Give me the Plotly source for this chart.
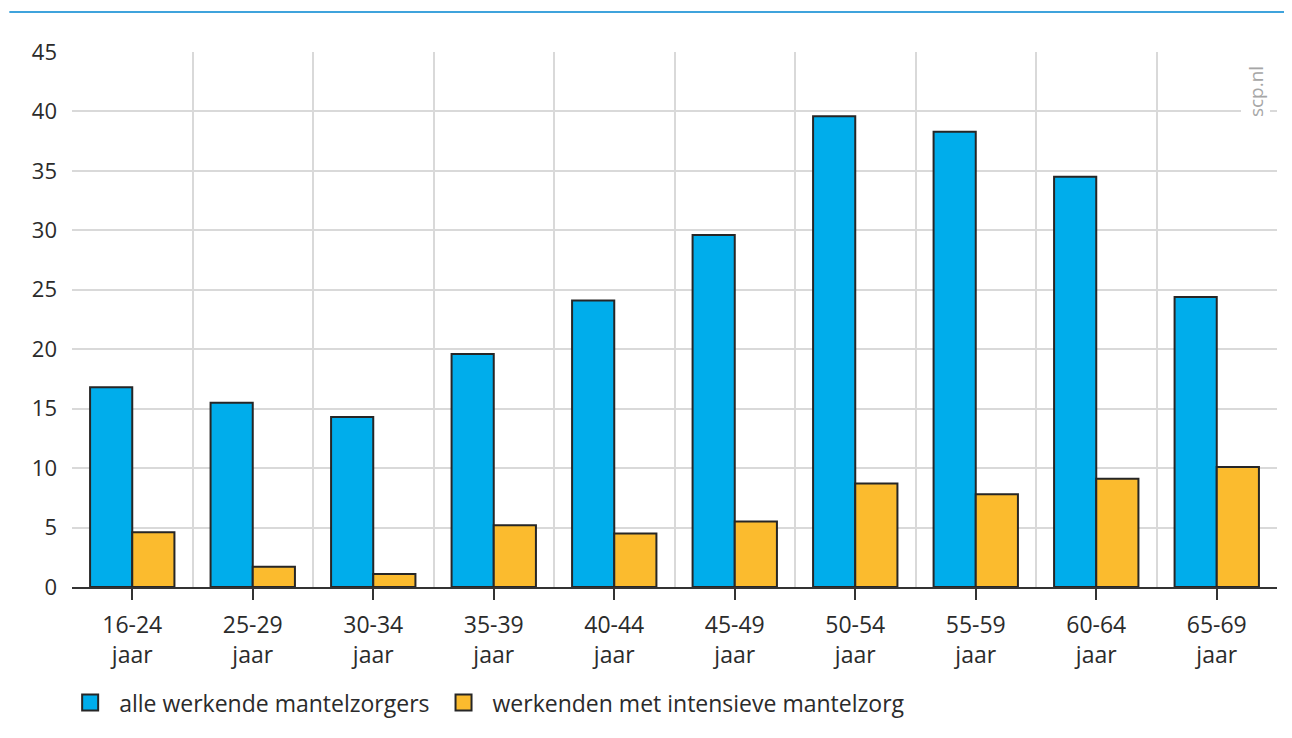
import plotly.graph_objects as go

categories = ["16-24", "25-29", "30-34", "35-39", "40-44", "45-49", "50-54", "55-59", "60-64", "65-69"]
alle = [16.8, 15.5, 14.3, 19.6, 24.1, 29.6, 39.6, 38.3, 34.5, 24.4]
intensief = [4.6, 1.7, 1.1, 5.2, 4.5, 5.5, 8.7, 7.8, 9.1, 10.1]
series_names = ["alle werkende mantelzorgers", "werkenden met intensieve mantelzorg"]
series_colors = ["#00adeb", "#fbbb2e"]
y_ticks = [0, 5, 10, 15, 20, 25, 30, 35, 40, 45]

FONT = "Open Sans"
TXT = "#2b2b2b"
EDGE = "#262626"

xpos = list(range(len(categories)))
ticktext = [c + "<br>jaar" for c in categories]

fig = go.Figure()
for vals, name, col in zip([alle, intensief], series_names, series_colors):
    fig.add_trace(go.Bar(x=xpos, y=vals, name=name, showlegend=False,
                         marker=dict(color=col, line=dict(color=EDGE, width=2))))
# legend entries with larger swatches
for name, col in zip(series_names, series_colors):
    fig.add_trace(go.Scatter(x=[None], y=[None], mode="markers", name=name,
                             marker=dict(symbol="square", size=20, color=col,
                                         line=dict(color=EDGE, width=2))))

fig.update_layout(
    width=1284, height=730,
    margin=dict(l=64, r=15, t=44, b=151),
    paper_bgcolor="white", plot_bgcolor="white",
    barmode="group", bargap=0.3, bargroupgap=0,
    font=dict(family=FONT, size=22, color=TXT),
    legend=dict(orientation="h", x=-0.009, xanchor="left", y=-0.176, yanchor="top",
                font=dict(size=23, color=TXT), itemwidth=48, traceorder="normal",
                itemsizing="trace"),
    xaxis=dict(range=[-0.5, len(categories) - 0.5], tickmode="array", tickvals=xpos,
               ticktext=ticktext, showgrid=False, ticks="outside", ticklen=11,
               tickwidth=2, tickcolor="#333333", showline=True, linecolor="#333333",
               linewidth=2, zeroline=False, tickfont=dict(size=23, color=TXT),
               ticklabelstandoff=5,
               minor=dict(tickmode="linear", tick0=-0.5, dtick=1, showgrid=True,
                          gridcolor="#d9d9d9", gridwidth=2, ticks="")),
    yaxis=dict(range=[0, 45], tickmode="array", tickvals=y_ticks,
               ticktext=[str(v) for v in y_ticks], showgrid=True, gridcolor="#d9d9d9",
               gridwidth=2, zeroline=False, showline=False, ticks="",
               ticklabelstandoff=14, tickfont=dict(size=22, color=TXT)),
)

# top decorative rule
fig.add_shape(type="line", xref="paper", yref="paper", x0=-0.052, x1=1.02, y0=1.0748, y1=1.0748,
              line=dict(color="#3fa3dc", width=2))

fig.add_annotation(text="scp.nl", xref="paper", yref="paper", x=0.982, y=0.977,
                   xanchor="center", yanchor="top", textangle=-90, showarrow=False,
                   bgcolor="white", font=dict(size=19, color="#a6a6a6", family=FONT))

fig.write_html("out.html")
